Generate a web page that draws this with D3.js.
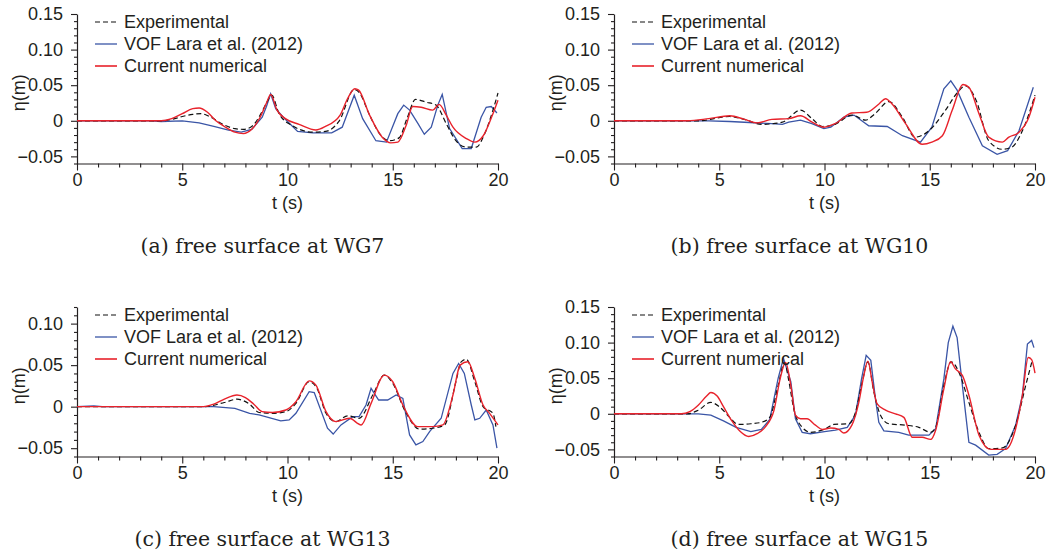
<!DOCTYPE html>
<html>
<head>
<meta charset="utf-8">
<script src="https://cdn.jsdelivr.net/npm/d3@7"></script>
<style>
  html, body { margin: 0; padding: 0; background: #ffffff; }
  svg { display: block; }
</style>
</head>
<body>
<svg id="chart" width="1050" height="555"></svg>
<script>
// ---------------- DATA ----------------
const seriesNames = ["Experimental", "VOF Lara et al. (2012)", "Current numerical"];
const captions = ["(a) free surface at WG7", "(b) free surface at WG10", "(c) free surface at WG13", "(d) free surface at WG15"];
const xTicks = [0, 5, 10, 15, 20];
const yTicksA = [-0.05, 0, 0.05, 0.10, 0.15];
const yTicksC = [-0.05, 0, 0.05, 0.10];
const yLabelsA = ["\u22120.05", "0", "0.05", "0.10", "0.15"];
const yLabelsC = ["\u22120.05", "0", "0.05", "0.10"];
const yMaxes = [0.15, 0.15, 0.12, 0.15];
const yMin = -0.06;

// WG7
const wg7Experimental = [[0,0],[4,0],[4.5,0.002],[5,0.006],[5.5,0.009],[5.9,0.010],[6.3,0.006],[7,-0.006],[7.5,-0.011],[7.9,-0.012],[8.3,-0.008],[8.7,0.008],[9.0,0.025],[9.25,0.036],[9.6,0.01],[10.24,-0.007],[11.2,-0.016],[11.8,-0.015],[12.46,0],[13.17,0.044],[13.4,0.040],[13.9,0.008],[14.37,-0.018],[14.84,-0.028],[15.3,-0.024],[15.7,0.005],[16.08,0.030],[16.6,0.026],[17.06,0.022],[17.54,-0.004],[18.0,-0.028],[18.5,-0.037],[18.97,-0.037],[19.37,-0.018],[19.76,0.015],[20,0.039]];
const wg7Vof = [[0,0],[3.5,0],[4,-0.001],[5,0],[5.8,-0.003],[6.5,-0.008],[7.2,-0.013],[7.8,-0.016],[8.3,-0.012],[8.8,0.005],[9.0,0.02],[9.2,0.038],[9.44,0.017],[9.8,0.005],[10.48,-0.015],[11.2,-0.017],[12.1,-0.017],[12.6,-0.009],[13.17,0.036],[13.57,0.003],[14.2,-0.028],[14.7,-0.030],[15.24,0.01],[15.52,0.022],[15.8,0.015],[16.2,-0.004],[16.5,-0.019],[16.83,-0.009],[17.14,0.022],[17.35,0.037],[17.7,-0.011],[18.3,-0.039],[18.73,-0.039],[19.2,0.005],[19.44,0.019],[19.68,0.020],[19.95,0.011]];
const wg7Current = [[0,0],[4,0],[4.5,0.003],[5,0.01],[5.5,0.017],[5.8,0.018],[6.2,0.012],[6.6,0],[7,-0.008],[7.5,-0.016],[7.9,-0.018],[8.3,-0.012],[8.7,0.005],[9.0,0.025],[9.2,0.037],[9.5,0.015],[9.9,0.003],[10.55,-0.005],[11.35,-0.013],[11.8,-0.008],[12.5,0.008],[12.85,0.031],[13.2,0.045],[13.38,0.043],[13.9,0.008],[14.5,-0.023],[14.9,-0.031],[15.24,-0.030],[15.63,-0.007],[15.95,0.020],[16.35,0.019],[16.9,0.015],[17.2,0.023],[17.54,0.008],[17.86,-0.009],[18.5,-0.025],[18.9,-0.030],[19.3,-0.021],[19.76,0.010],[20,0.029]];

// WG10
const wg10Experimental = [[0,0],[4,0],[5.5,0.006],[6.2,0.002],[7,-0.005],[8,-0.002],[8.86,0.015],[9.41,0.003],[9.9,-0.008],[10.5,-0.005],[11.3,0.008],[11.95,0.001],[12.4,0.010],[13.06,0.027],[13.7,0.005],[14.3,-0.023],[14.96,-0.014],[15.75,0.015],[16.3,0.039],[16.7,0.049],[17.2,0.029],[17.8,-0.028],[18.45,-0.040],[18.9,-0.037],[19.4,-0.014],[20,0.036]];
const wg10Vof = [[0,0],[4.5,0],[5.5,-0.001],[7.5,-0.004],[8.0,-0.005],[8.3,-0.002],[8.86,0.001],[9.4,-0.004],[9.97,-0.011],[10.3,-0.009],[10.92,0.005],[11.4,0.008],[12.1,-0.007],[12.98,-0.008],[13.7,-0.021],[14.56,-0.030],[15.1,-0.009],[15.67,0.045],[16.0,0.056],[16.3,0.043],[16.86,0.005],[17.5,-0.035],[18.2,-0.047],[18.7,-0.042],[19.24,-0.014],[19.92,0.047]];
const wg10Current = [[0,0],[3.5,0],[4.5,0.003],[5.5,0.007],[6.2,0.002],[6.8,-0.003],[7.5,0.002],[8.3,0.003],[8.86,0.007],[9.41,-0.002],[9.97,-0.009],[10.5,-0.004],[11.3,0.011],[12.0,0.012],[12.6,0.024],[12.9,0.031],[13.2,0.024],[13.85,-0.004],[14.64,-0.033],[15.1,-0.030],[15.6,-0.021],[16.07,0.015],[16.58,0.051],[16.86,0.047],[17.34,0.010],[17.8,-0.023],[18.45,-0.030],[18.76,-0.023],[19.24,-0.016],[19.71,0.005],[20,0.033]];

// WG13
const wg13Experimental = [[0,0],[6,0],[7,0.005],[7.6,0.009],[8.2,0.003],[8.65,-0.007],[9.29,-0.008],[9.92,-0.006],[10.4,0.004],[11.03,0.030],[11.4,0.022],[11.83,-0.008],[12.3,-0.018],[12.86,-0.011],[13.4,-0.014],[14.05,0.014],[14.6,0.038],[15.0,0.028],[15.6,-0.006],[16.27,-0.027],[16.9,-0.026],[17.46,-0.022],[18.0,0.030],[18.25,0.054],[18.5,0.057],[18.9,0.030],[19.29,0.0],[19.76,-0.008],[19.9,-0.024]];
const wg13Vof = [[0,0],[0.8,0.001],[1.2,0],[6.5,0],[7.5,-0.002],[8.2,-0.008],[8.65,-0.010],[9.68,-0.017],[10.08,-0.016],[10.4,-0.008],[11.03,0.018],[11.27,0.017],[11.9,-0.026],[12.17,-0.033],[12.54,-0.022],[13.1,-0.012],[13.4,-0.012],[13.73,0.002],[13.97,0.022],[14.33,0.008],[14.76,0.008],[15.16,0.014],[15.48,0.010],[15.8,-0.034],[16.1,-0.046],[16.43,-0.042],[16.75,-0.030],[17.3,-0.014],[17.86,0.040],[18.13,0.052],[18.4,0.040],[18.73,0.002],[18.9,-0.016],[19.13,-0.014],[19.44,-0.004],[19.76,-0.022],[19.95,-0.050]];
const wg13Current = [[0,0],[6,0],[6.5,0.003],[7,0.009],[7.6,0.014],[8.0,0.011],[8.4,0.003],[8.8,-0.006],[9.29,-0.007],[9.92,-0.004],[10.4,0.006],[11.03,0.031],[11.35,0.026],[11.83,-0.006],[12.3,-0.018],[12.94,-0.014],[13.5,-0.022],[13.97,0.004],[14.6,0.038],[15.0,0.030],[15.48,0.002],[16.19,-0.024],[16.9,-0.024],[17.38,-0.022],[17.86,0.014],[18.2,0.050],[18.57,0.054],[18.9,0.034],[19.29,0.002],[19.6,-0.008],[20,-0.022]];

// WG15
const wg15Experimental = [[0,0],[3.5,0],[4.0,0.005],[4.6,0.016],[5.0,0.010],[5.5,-0.005],[5.9,-0.015],[6.5,-0.014],[7.0,-0.012],[7.4,-0.005],[7.8,0.040],[8.1,0.072],[8.3,0.047],[8.54,0.007],[8.94,-0.019],[9.33,-0.026],[10.05,-0.021],[10.44,-0.015],[11.16,-0.014],[11.47,0.002],[11.79,0.044],[12.06,0.073],[12.35,0.030],[12.66,-0.002],[13.06,-0.014],[13.85,-0.016],[14.48,-0.019],[15.04,-0.026],[15.28,-0.019],[15.67,0.040],[16.02,0.073],[16.39,0.058],[16.86,0.016],[17.34,-0.026],[17.8,-0.049],[18.45,-0.048],[19.08,-0.016],[19.56,0.040],[19.87,0.075]];
const wg15Vof = [[0,0],[4,0],[4.6,-0.002],[5.2,-0.01],[5.8,-0.019],[6.5,-0.025],[7.0,-0.022],[7.4,-0.008],[7.8,0.05],[8.05,0.078],[8.4,0.045],[8.62,-0.007],[8.94,-0.026],[9.33,-0.028],[10.0,-0.025],[10.52,-0.023],[11.08,-0.019],[11.47,-0.002],[11.76,0.049],[11.98,0.082],[12.2,0.075],[12.42,0.021],[12.58,-0.012],[12.82,-0.024],[13.53,-0.026],[14.0,-0.030],[14.96,-0.030],[15.28,-0.021],[15.67,0.049],[15.88,0.100],[16.1,0.123],[16.3,0.107],[16.55,0.040],[16.86,-0.040],[17.18,-0.044],[17.8,-0.058],[18.2,-0.057],[18.6,-0.049],[19.08,-0.016],[19.4,0.026],[19.64,0.098],[19.84,0.103],[19.95,0.093]];
const wg15Current = [[0,0],[3.2,0],[3.6,0.003],[4.0,0.012],[4.4,0.025],[4.6,0.030],[4.9,0.025],[5.2,0.010],[5.6,-0.01],[6.0,-0.025],[6.4,-0.032],[6.8,-0.028],[7.2,-0.018],[7.6,0.005],[7.9,0.050],[8.15,0.072],[8.4,0.040],[8.62,-0.002],[8.86,-0.007],[9.17,-0.007],[9.57,-0.016],[9.9,-0.022],[10.29,-0.020],[10.68,-0.022],[10.92,-0.027],[11.3,-0.016],[11.63,0.016],[11.87,0.054],[12.06,0.074],[12.27,0.044],[12.5,0.014],[12.9,0.005],[13.37,0.0],[13.77,-0.005],[14.17,-0.033],[14.64,-0.033],[15.04,-0.036],[15.28,-0.023],[15.67,0.035],[15.99,0.073],[16.22,0.063],[16.55,0.054],[16.86,0.026],[17.34,-0.030],[17.9,-0.050],[18.6,-0.050],[19.08,-0.021],[19.4,0.026],[19.68,0.079],[19.84,0.076],[20.0,0.057]];

// ---------------- DRAWING ----------------
const panels = [
  { exp: wg7Experimental,  vof: wg7Vof,  cur: wg7Current,  yTicks: yTicksA, yLabels: yLabelsA, yMax: yMaxes[0], caption: captions[0], left: 77,  top: 14 },
  { exp: wg10Experimental, vof: wg10Vof, cur: wg10Current, yTicks: yTicksA, yLabels: yLabelsA, yMax: yMaxes[1], caption: captions[1], left: 614, top: 14 },
  { exp: wg13Experimental, vof: wg13Vof, cur: wg13Current, yTicks: yTicksC, yLabels: yLabelsC, yMax: yMaxes[2], caption: captions[2], left: 77,  top: 307 },
  { exp: wg15Experimental, vof: wg15Vof, cur: wg15Current, yTicks: yTicksA, yLabels: yLabelsA, yMax: yMaxes[3], caption: captions[3], left: 614, top: 307 }
];

const W = 421, H = 149.5;
const FONT = "'Liberation Sans', Arial, Helvetica, sans-serif";
const TXT = "#231f20";
const BLUE = "#3a55a6";
const RED = "#e8222b";

const svg = d3.select("#chart");

panels.forEach(p => {
  const g = svg.append("g").attr("transform", `translate(${p.left},${p.top})`);
  const x = d3.scaleLinear().domain([0, 20]).range([0, W]);
  const y = d3.scaleLinear().domain([yMin, p.yMax]).range([H, 0]);

  // minor ticks
  const xMinor = d3.range(0, 21, 1).filter(v => v % 5 !== 0);
  const yMinor = d3.range(-6, Math.round(p.yMax * 100) + 1).map(v => v / 100)
                   .filter(v => !p.yTicks.some(t => Math.abs(t - v) < 1e-9));

  g.append("g").attr("transform", `translate(0,${H})`)
    .call(d3.axisBottom(x).tickValues(xMinor).tickSize(4).tickFormat(""))
    .call(a => a.select(".domain").remove());
  g.append("g")
    .call(d3.axisLeft(y).tickValues(yMinor).tickSize(3).tickFormat(""))
    .call(a => a.select(".domain").remove());

  // major axes
  const xAxis = g.append("g").attr("transform", `translate(0,${H})`)
    .call(d3.axisBottom(x).tickValues(xTicks).tickSize(7).tickSizeOuter(0).tickPadding(3).tickFormat(d3.format("d")));
  const yAxis = g.append("g")
    .call(d3.axisLeft(y).tickValues(p.yTicks).tickSize(6).tickSizeOuter(0).tickPadding(8)
      .tickFormat((d, i) => p.yLabels[i]));

  [xAxis, yAxis].forEach(a => {
    a.selectAll("text").attr("font-family", FONT).attr("font-size", 18).attr("fill", TXT);
    a.selectAll("line").attr("stroke", "#231f20").attr("stroke-width", 1.1);
    a.select(".domain").attr("stroke", "#231f20").attr("stroke-width", 1.2);
  });
  g.selectAll("g.tick line").attr("stroke", "#231f20").attr("stroke-width", 1.1);

  // axis titles
  g.append("text")
    .attr("x", W / 2).attr("y", H + 45)
    .attr("text-anchor", "middle")
    .attr("font-family", FONT).attr("font-size", 18).attr("fill", TXT)
    .text("t (s)");
  g.append("text")
    .attr("transform", `translate(-52,${H / 2 + 4}) rotate(-90)`)
    .attr("text-anchor", "middle")
    .attr("font-family", FONT).attr("font-size", 18).attr("fill", TXT)
    .text("\u03b7(m)");

  // lines
  const smooth = d3.line().x(d => x(d[0])).y(d => y(d[1])).curve(d3.curveMonotoneX);
  const straight = d3.line().x(d => x(d[0])).y(d => y(d[1]));

  g.append("path").datum(p.vof).attr("d", straight)
    .attr("fill", "none").attr("stroke", BLUE).attr("stroke-width", 1.3);
  g.append("path").datum(p.exp).attr("d", smooth)
    .attr("fill", "none").attr("stroke", "#111").attr("stroke-width", 1.2).attr("stroke-dasharray", "5,3");
  g.append("path").datum(p.cur).attr("d", smooth)
    .attr("fill", "none").attr("stroke", RED).attr("stroke-width", 1.4);

  // legend
  const legendStyles = [
    { color: "#111", dash: "5,3", width: 1.2 },
    { color: BLUE, dash: null, width: 1.3 },
    { color: RED, dash: null, width: 1.6 }
  ];
  const lg = g.append("g");
  seriesNames.forEach((name, i) => {
    const ly = 8 + i * 22;
    lg.append("line")
      .attr("x1", 18).attr("x2", 40).attr("y1", ly).attr("y2", ly)
      .attr("stroke", legendStyles[i].color)
      .attr("stroke-width", legendStyles[i].width)
      .attr("stroke-dasharray", legendStyles[i].dash);
    lg.append("text")
      .attr("x", 47).attr("y", ly + 6)
      .attr("font-family", FONT).attr("font-size", 18).attr("fill", TXT)
      .text(name);
  });

  // caption
  svg.append("text")
    .attr("x", p.left + 185.5).attr("y", p.top + 238.5)
    .attr("text-anchor", "middle")
    .attr("font-family", "'DejaVu Serif', 'Liberation Serif', serif")
    .attr("font-size", 20.5).attr("fill", TXT)
    .text(p.caption);
});
</script>
</body>
</html>
